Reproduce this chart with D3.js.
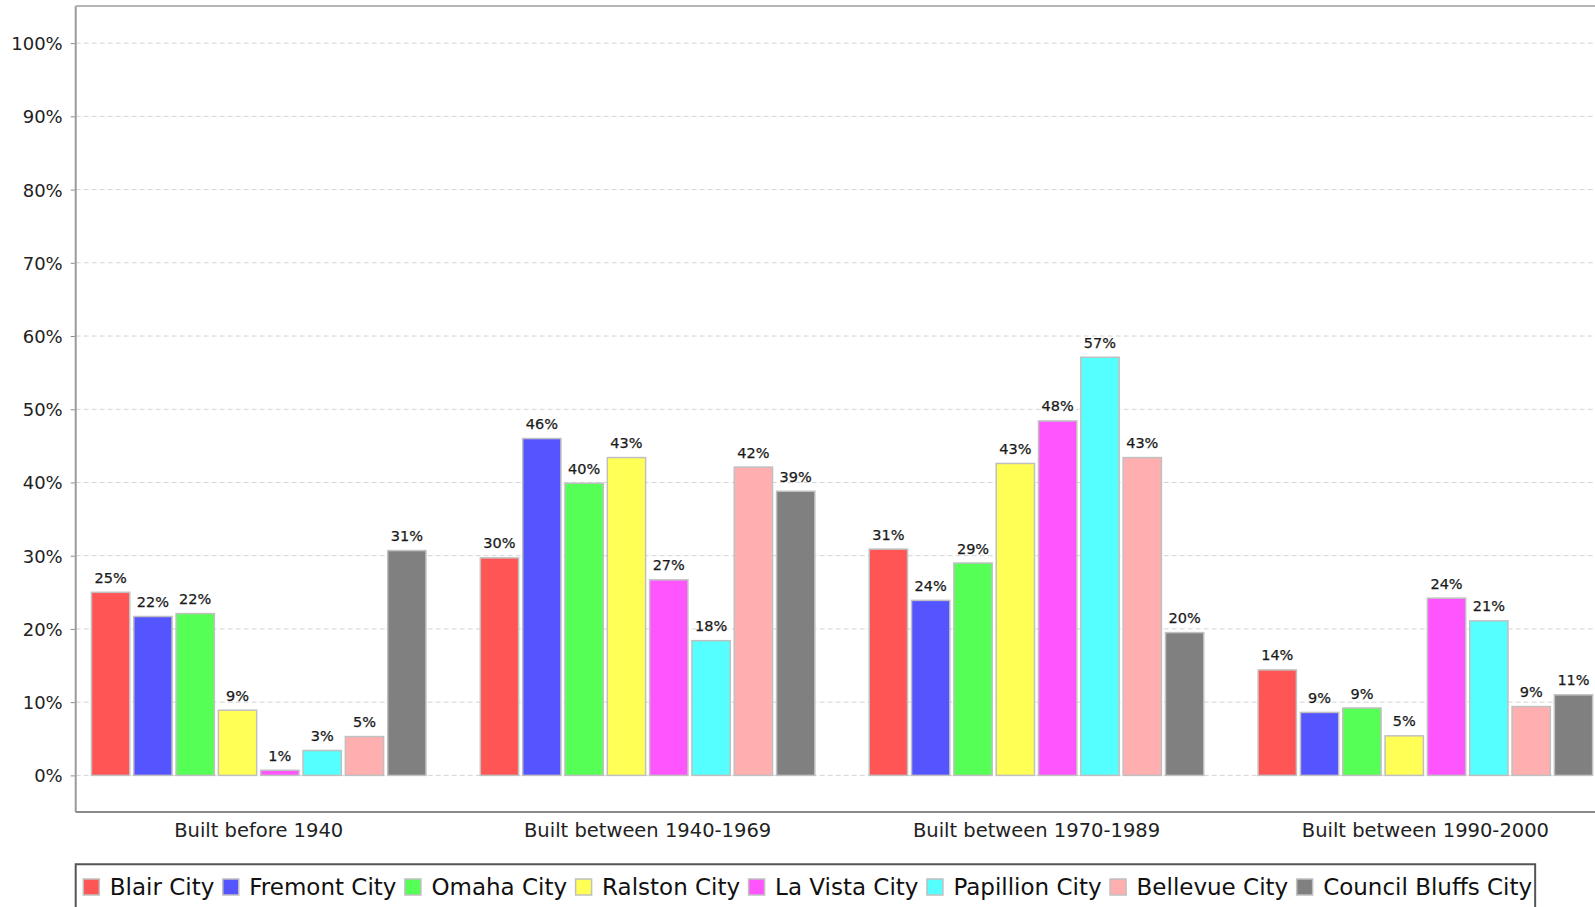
<!DOCTYPE html>
<html>
<head>
<meta charset="utf-8">
<script src="https://cdn.jsdelivr.net/npm/d3@7"></script>
<style>
  html, body { margin: 0; padding: 0; background: #fff; }
  svg { display: block; }
  text { font-family: "DejaVu Sans", sans-serif; }
</style>
</head>
<body>
<svg id="chart" width="1595" height="907"></svg>
<script>
const categories = ["Built before 1940", "Built between 1940-1969", "Built between 1970-1989", "Built between 1990-2000"];
const seriesNames = ["Blair City", "Fremont City", "Omaha City", "Ralston City", "La Vista City", "Papillion City", "Bellevue City", "Council Bluffs City"];
const seriesColors = ["#FF5555", "#5555FF", "#55FF55", "#FFFF55", "#FF55FF", "#55FFFF", "#FFAFAF", "#808080"];
// values in percent, one array per series, ordered by category
const blair = [25.0, 29.7, 30.9, 14.4];
const fremont = [21.7, 46.0, 23.9, 8.6];
const omaha = [22.1, 39.9, 29.0, 9.2];
const ralston = [8.9, 43.4, 42.6, 5.4];
const laVista = [0.7, 26.7, 48.4, 24.2];
const papillion = [3.4, 18.4, 57.1, 21.1];
const bellevue = [5.3, 42.1, 43.4, 9.4];
const councilBluffs = [30.7, 38.8, 19.5, 11.0];
const seriesValues = [blair, fremont, omaha, ralston, laVista, papillion, bellevue, councilBluffs];
const yTicks = [0, 10, 20, 30, 40, 50, 60, 70, 80, 90, 100];

const svg = d3.select("#chart");
const W = 1595;
const plotLeft = 75.7, plotTop = 6, plotBottom = 812;

const y = d3.scaleLinear().domain([-5, 105]).range([plotBottom, plotTop + 0.5]);
const x0 = d3.scaleBand().domain(categories).range([90.7, 1593.4]).paddingInner(0.136).paddingOuter(0);
const x1 = d3.scaleBand().domain(seriesNames).range([0, x0.bandwidth()]).paddingInner(0.06);

// gridlines
svg.append("g").selectAll("line").data(yTicks).join("line")
  .attr("x1", plotLeft).attr("x2", W)
  .attr("y1", d => y(d)).attr("y2", d => y(d))
  .attr("stroke", "#d4d4d4").attr("stroke-width", 1)
  .attr("stroke-dasharray", "5,3");

// bars
const groups = svg.append("g").selectAll("g").data(categories).join("g")
  .attr("transform", d => `translate(${x0(d)},0)`);

groups.each(function(cat, ci) {
  const g = d3.select(this);
  const items = seriesNames.map((s, si) => ({ s, si, v: seriesValues[si][ci] }));
  g.selectAll("rect").data(items).join("rect")
    .attr("x", d => x1(d.s) + 0.75)
    .attr("width", x1.bandwidth() - 1.5)
    .attr("y", d => y(d.v))
    .attr("height", d => y(0) - y(d.v))
    .attr("fill", d => seriesColors[d.si])
    .attr("stroke", "#c0c0c0").attr("stroke-width", 1.5);
  g.selectAll("text").data(items).join("text")
    .attr("x", d => x1(d.s) + x1.bandwidth() / 2)
    .attr("y", d => y(d.v) - 9.5)
    .attr("text-anchor", "middle")
    .attr("font-size", "14.5px")
    .attr("fill", "#1a1a1a")
    .attr("stroke", "#1a1a1a").attr("stroke-width", 0.25)
    .text(d => Math.round(d.v) + "%");
});

// plot outline: left, top and bottom
svg.append("line").attr("x1", plotLeft).attr("x2", plotLeft).attr("y1", plotTop).attr("y2", plotBottom)
  .attr("stroke", "#9a9a9a").attr("stroke-width", 2);
svg.append("line").attr("x1", plotLeft).attr("x2", W).attr("y1", plotTop).attr("y2", plotTop)
  .attr("stroke", "#b5b5b5").attr("stroke-width", 2);
svg.append("line").attr("x1", plotLeft).attr("x2", W).attr("y1", plotBottom).attr("y2", plotBottom)
  .attr("stroke", "#8a8a8a").attr("stroke-width", 2);

// y axis
const yAxis = d3.axisLeft(y).tickValues(yTicks).tickSize(4).tickPadding(8).tickFormat(d => d + "%");
const yg = svg.append("g").attr("transform", `translate(${plotLeft - 1},0)`).call(yAxis);
yg.select(".domain").remove();
yg.selectAll(".tick line").attr("stroke", "#8a8a8a");
yg.selectAll(".tick text").attr("font-size", "18px").attr("fill", "#222")
  .attr("font-family", "DejaVu Sans, sans-serif").attr("dy", "0.36em");

// x axis labels
const xAxis = d3.axisBottom(x0).tickSize(0).tickPadding(0);
const xg = svg.append("g").attr("transform", `translate(0,${plotBottom})`).call(xAxis);
xg.select(".domain").remove();
xg.selectAll(".tick text").attr("font-size", "19.5px").attr("fill", "#222")
  .attr("font-family", "DejaVu Sans, sans-serif").attr("y", 25).attr("dy", 0);

// legend
const legend = svg.append("g");
const legTop = 864.3, legLeft = 75.7;
let cx = 83.3;
seriesNames.forEach((s, i) => {
  legend.append("rect").attr("x", cx).attr("y", 879).attr("width", 16).attr("height", 16)
    .attr("fill", seriesColors[i]).attr("stroke", "#c0c0c0").attr("stroke-width", 1.5);
  const t = legend.append("text").attr("x", cx + 26.5).attr("y", 895)
    .attr("font-size", "23px").attr("fill", "#111").text(s);
  const w = t.node().getComputedTextLength();
  cx = cx + 26.5 + w + 8.5;
});
const legRight = cx - 8.5 + 3;
legend.append("path")
  .attr("d", `M${legLeft},${910} V${legTop} H${legRight} V${910}`)
  .attr("fill", "none").attr("stroke", "#555").attr("stroke-width", 2);
</script>
</body>
</html>
